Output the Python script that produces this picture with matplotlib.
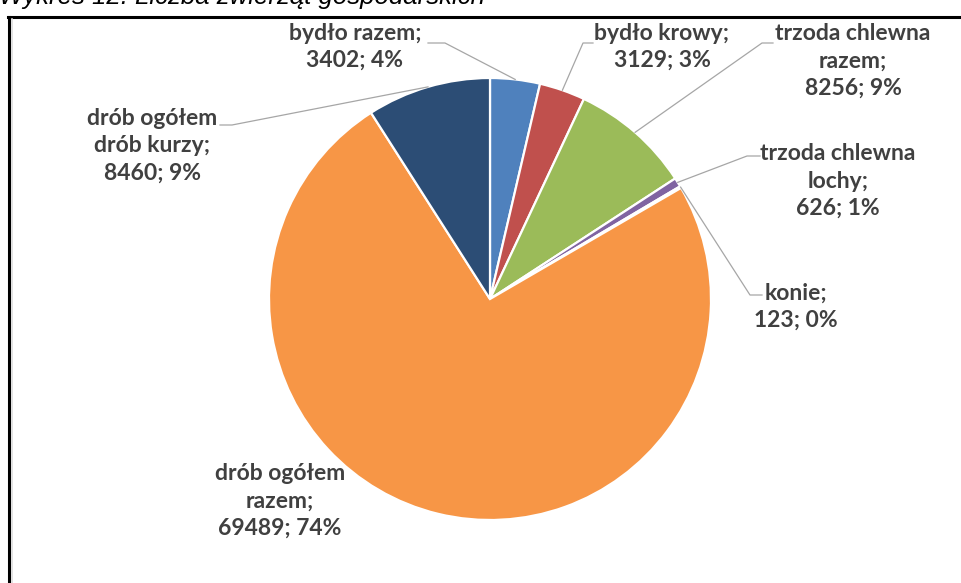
import numpy as np
import matplotlib
matplotlib.use("Agg")
import matplotlib.pyplot as plt
from matplotlib.lines import Line2D

labels = ["bydło razem", "bydło krowy", "trzoda chlewna\nrazem", "trzoda chlewna\nlochy",
          "konie", "drób ogółem\nrazem", "drób ogółem\ndrób kurzy"]
values = [3402, 3129, 8256, 626, 123, 69489, 8460]
percents = ["4%", "3%", "9%", "1%", "0%", "74%", "9%"]
colors = ["#4F81BD", "#C0504D", "#9BBB59", "#8064A2", "#4BACC6", "#F79646", "#2C4D75"]

W, H = 961, 583
plt.rcParams['font.family'] = ['Lato', 'DejaVu Sans']

fig = plt.figure(figsize=(W / 100, H / 100), dpi=100)
ax = fig.add_axes([0, 0, 1, 1])

cx, cy, r = 490, H - 299, 221
ax.pie(values, colors=colors, startangle=90, counterclock=False,
       center=(cx, cy), radius=r, frame=True,
       wedgeprops=dict(edgecolor="white", linewidth=1.6))
ax.set_xlim(0, W)
ax.set_ylim(0, H)
ax.set_aspect("equal")
ax.axis("off")

# label layout in pixels (y down): text centre x, text centre y, leader end x, elbow x, leader y
layout = [
    (355, 47, 428, 445, 43),
    (662, 47, 593, 583, 43),
    (853, 61, 773, 762, 43),
    (838, 181, 760, 747, 156),
    (796, 307, 762, 750, 295),
    (280, 501, None, None, None),
    (152, 146, 220, 232, 125),
]

total = sum(values)
cum = np.cumsum([0] + values[:-1])
for i, (lab, v, p) in enumerate(zip(labels, values, percents)):
    tx, ty, sx, ex, ly = layout[i]
    ax.text(tx, H - ty, f"{lab};\n{v}; {p}", ha="center", va="center",
            fontsize=16.5, fontweight="bold", color="#404040", linespacing=1.36)
    if sx is not None:
        mid = (cum[i] + v / 2) / total * 2 * np.pi
        px = cx + r * np.sin(mid)
        py = cy + r * np.cos(mid)
        ax.add_line(Line2D([sx, ex, px], [H - ly, H - ly, py],
                           color="#A6A6A6", linewidth=0.9))

# caption cut off at the top edge
fig.text(-1 / W, 1 - 4 / H, "Wykres 12. Liczba zwierząt gospodarskich", fontsize=18.5,
         style="italic", family="Liberation Sans", va="baseline", ha="left")

# chart frame (only top and left edges visible)
fig.add_artist(Line2D([9 / W, 9 / W], [0, 1 - 17 / H], transform=fig.transFigure,
                      color="black", linewidth=2.2))
fig.add_artist(Line2D([8 / W, 1], [1 - 17 / H, 1 - 17 / H], transform=fig.transFigure,
                      color="black", linewidth=2.2))
fig.add_artist(Line2D([12 / W, 12 / W], [0, 1 - 19 / H], transform=fig.transFigure,
                      color="#DDDDDD", linewidth=1.2))

fig.savefig("out.png", dpi=100)
